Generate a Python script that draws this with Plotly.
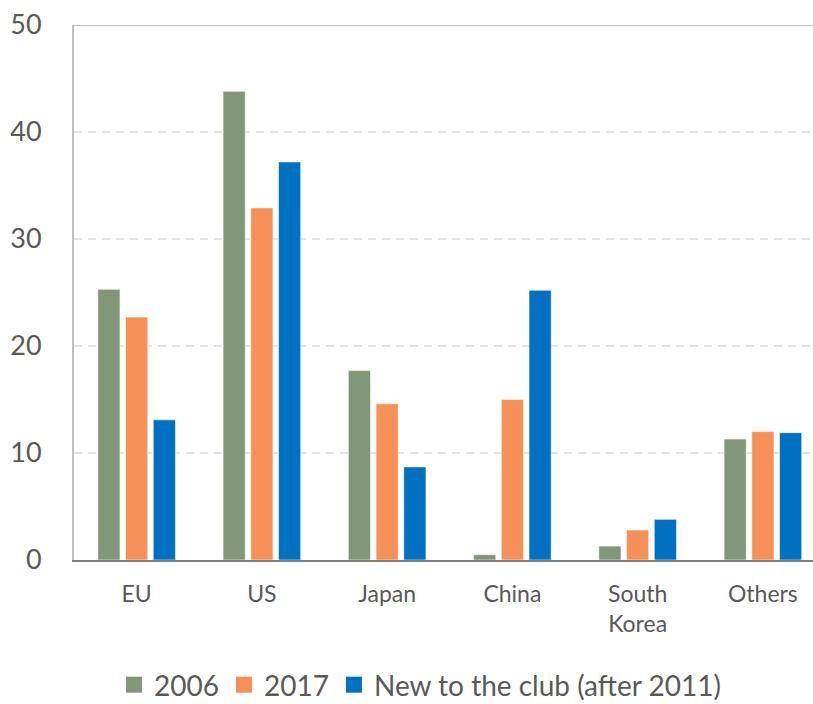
import plotly.graph_objects as go

categories = ["EU", "US", "Japan", "China", "South<br>Korea", "Others"]
series_names = ["2006", "2017", "New to the club (after 2011)"]
values_2006 = [25.3, 43.8, 17.7, 0.5, 1.3, 11.3]
values_2017 = [22.7, 32.9, 14.6, 15.0, 2.8, 12.0]
values_new = [13.1, 37.2, 8.7, 25.2, 3.8, 11.9]
colors = ["#82977A", "#F59158", "#0070C0"]
y_ticks = [0, 10, 20, 30, 40, 50]

text_color = "#595959"
font_family = "Lato, 'Open Sans', sans-serif"

fig = go.Figure()
for name, vals, col in zip(series_names, [values_2006, values_2017, values_new], colors):
    fig.add_trace(go.Bar(
        x=list(range(len(categories))),
        y=vals,
        name=name,
        legendgroup=name,
        showlegend=False,
        marker=dict(color=col, line=dict(color="rgba(255,255,255,0.55)", width=1)),
    ))
    # legend entry with a larger square swatch
    fig.add_trace(go.Scatter(
        x=[None], y=[None],
        mode="markers",
        name=name,
        legendgroup=name,
        marker=dict(symbol="square", size=16, color=col),
    ))

fig.update_layout(
    width=813,
    height=704,
    margin=dict(l=74, r=0, t=25, b=144, autoexpand=False),
    paper_bgcolor="white",
    plot_bgcolor="white",
    barmode="group",
    bargap=0.336,
    bargroupgap=0.2,
    font=dict(family=font_family, color=text_color),
    showlegend=True,
    legend=dict(
        orientation="h",
        x=(420 - 74) / 739, xanchor="center",
        y=-(685 - 560) / 535, yanchor="middle",
        font=dict(size=28, color=text_color),
        itemwidth=30,
        traceorder="normal",
    ),
)

fig.update_xaxes(
    range=[-0.5, 5.40],
    tickmode="array",
    tickvals=list(range(len(categories))),
    ticktext=categories,
    tickfont=dict(size=23, color=text_color),
    showline=True, linecolor="#808080", linewidth=2,
    showgrid=False, zeroline=False,
    ticks="", ticklabelstandoff=12,
    automargin=False,
    fixedrange=True,
)

fig.update_yaxes(
    range=[0, 50],
    tickvals=y_ticks,
    tickfont=dict(size=27, color=text_color),
    showline=True, linecolor="#BFBFBF", linewidth=2,
    showgrid=True, gridcolor="#E3E3E3", gridwidth=1.5, griddash="8px,6px",
    zeroline=False,
    ticks="", ticklabelstandoff=25,
    automargin=False,
)

# solid rule across the top of the plot area
fig.add_shape(type="line", xref="paper", yref="y", x0=0, x1=1, y0=50, y1=50,
              line=dict(color="#BFBFBF", width=2))

fig.write_html("out.html")
